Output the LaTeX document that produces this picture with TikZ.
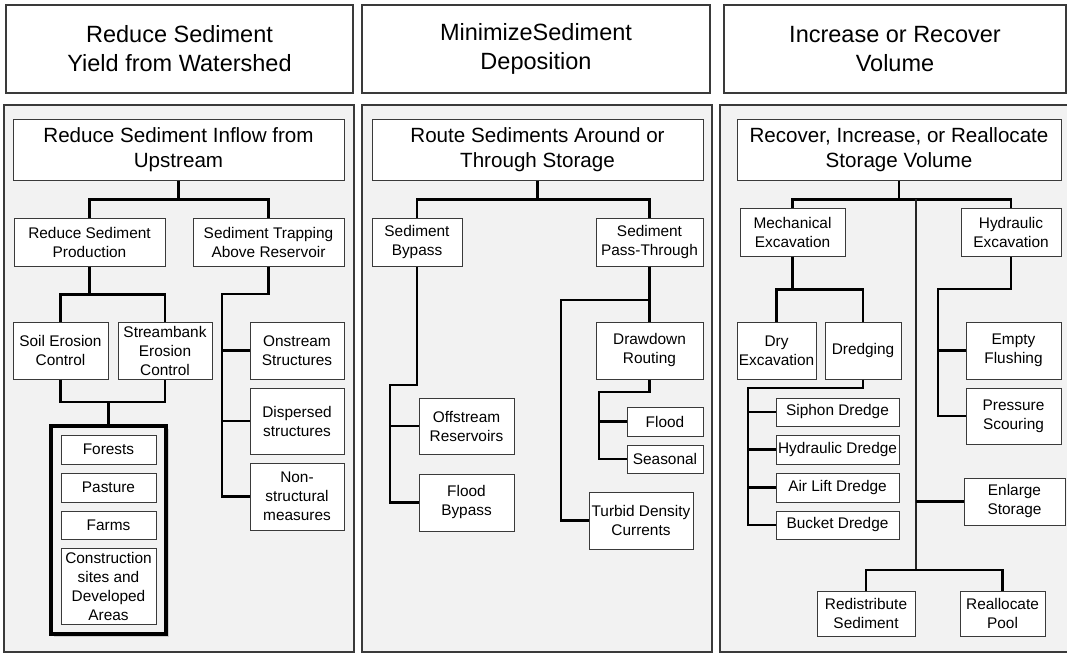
\documentclass[tikz,border=0pt]{standalone}
\usepackage{fontspec}
\setmainfont{Liberation Sans}
\usetikzlibrary{shadows}
\definecolor{panelgray}{HTML}{F2F2F2}
\definecolor{edgec}{HTML}{3A3A3A}
\tikzset{
  box/.style={draw=edgec, line width=1pt, fill=white, inner sep=0pt, align=center,
    font=\fontsize{15.4}{19}\selectfont,
    drop shadow={opacity=0.22, shadow xshift=1.3pt, shadow yshift=-1.3pt}},
  midbox/.style={box, font=\fontsize{20.6}{24.5}\selectfont},
  headbox/.style={draw=edgec, line width=1.2pt, fill=white, inner sep=0pt, align=center,
    font=\fontsize{23.5}{29}\selectfont},
  panel/.style={draw=edgec, line width=1.4pt, fill=panelgray},
  grpbox/.style={draw=black, line width=4.5pt, inner sep=0pt, fill=panelgray,
    drop shadow={opacity=0.3, shadow xshift=3pt, shadow yshift=-3pt}},
  conn/.style={draw=black, line width=2.2pt},
  thinconn/.style={draw=black!85, line width=1.6pt}
}
\newcommand\mybox[7][box]{\node[#1, minimum width={(#5-#3)*1pt}, minimum height={(#6-#4)*1pt}] (#2) at ({(#3+#5)/2},{(#4+#6)/2}) {#7};}
\begin{document}
\begin{tikzpicture}[x=1pt,y=-1pt]
\useasboundingbox[fill=white] (0,0) rectangle (1067,654);
% headers
\mybox[headbox]{h1}{6}{5}{353}{93}{Reduce Sediment\\Yield from Watershed}
\mybox[headbox]{h2}{362}{5}{710}{93}{MinimizeSediment\\Deposition}
\mybox[headbox]{h3}{724}{5}{1066}{93}{Increase or Recover\\Volume}
% panels
\mybox[panel]{p1}{4}{105}{354}{652}{}
\mybox[panel]{p2}{362}{105}{712}{652}{}
\mybox[panel]{p3}{720}{105}{1070}{652}{}

% ---------- panel 1 ----------
\mybox[midbox]{rsi}{13}{119}{344}{180}{Reduce Sediment Inflow from\\Upstream}
\mybox{rsp}{14}{218}{165}{266}{Reduce Sediment\\Production}
\mybox{star}{193}{218}{344}{266}{Sediment Trapping\\Above Reservoir}
\mybox{sec}{13}{322}{108}{379}{Soil Erosion\\Control}
\mybox{stec}{118}{322}{212}{379}{Streambank\\Erosion\\Control}
\mybox{ons}{250}{322}{344}{379}{Onstream\\Structures}
\mybox{disp}{250}{388}{344}{454}{Dispersed\\structures}
\mybox{nons}{250}{463}{344}{530}{Non-\\structural\\measures}
\mybox[grpbox]{grp}{51}{426}{166}{634}{}
\mybox{forests}{61}{435}{156}{464}{Forests}
\mybox{pasture}{61}{473}{156}{502}{Pasture}
\mybox{farms}{61}{511}{156}{539}{Farms}
\mybox{cons}{61}{548}{156}{624}{Construction\\sites and\\Developed\\Areas}

\draw[conn] (rsi.south) -- ++(0,19) coordinate (a1);
\draw[conn] (rsp.north) |- (a1) -| (star.north);
\draw[conn] (rsp.south) -- ++(0,28) coordinate (a2);
\draw[conn] (sec.north) |- (a2) -| (stec.north);
\coordinate (a3) at (222,294);
\draw[conn] (star.south) |- (a3) |- (nons.west);
\draw[conn] (a3 |- ons.west) -- (ons.west);
\draw[conn] (a3 |- disp.west) -- (disp.west);
\coordinate (a4) at (108.5,402);
\draw[conn] (sec.south) |- (a4) -| (stec.south);
\draw[conn] (a4) -- (grp.north);

% ---------- panel 2 ----------
\mybox[midbox]{rst}{372}{119}{703}{180}{Route Sediments Around or\\Through Storage}
\mybox{sb}{372}{218}{462}{266}{Sediment\\Bypass}
\mybox{spt}{596}{218}{703}{266}{Sediment\\Pass-Through}
\mybox{osr}{419}{398}{514}{454}{Offstream\\Reservoirs}
\mybox{fb}{419}{474}{514}{531}{Flood\\Bypass}
\mybox{ddr}{596}{322}{703}{379}{Drawdown\\Routing}
\mybox{flood}{627}{407}{703}{436}{Flood}
\mybox{seas}{627}{445}{703}{473}{Seasonal}
\mybox{tdc}{589}{492}{693}{549}{Turbid Density\\Currents}

\draw[conn] (rst.south) -- ++(0,19) coordinate (b1);
\draw[conn] (sb.north) |- (b1) -| (spt.north);
\coordinate (b2) at (390,385);
\draw[conn] (sb.south) |- (b2) |- (fb.west);
\draw[conn] (b2 |- osr.west) -- (osr.west);
\coordinate (b3) at (561,300);
\draw[conn] (spt.south) |- (b3) |- (tdc.west);
\draw[conn] (spt.south) -- (ddr.north);
\coordinate (b4) at (599,392);
\draw[conn] (ddr.south) |- (b4) |- (seas.west);
\draw[conn] (b4 |- flood.west) -- (flood.west);

% ---------- panel 3 ----------
\mybox[midbox]{rec}{737}{119}{1061}{180}{Recover, Increase, or Reallocate\\Storage Volume}
\mybox{me}{740}{208}{845}{256}{Mechanical\\Excavation}
\mybox{he}{961}{208}{1061}{256}{Hydraulic\\Excavation}
\mybox{dry}{737}{322}{816}{379}{Dry\\Excavation}
\mybox{dredg}{825}{322}{901}{379}{Dredging}
\mybox{siph}{776}{398}{899}{426}{Siphon Dredge}
\mybox{hyd}{776}{435}{899}{464}{Hydraulic Dredge}
\mybox{air}{776}{473}{899}{502}{Air Lift Dredge}
\mybox{buck}{776}{511}{899}{539}{Bucket Dredge}
\mybox{ef}{966}{322}{1061}{379}{Empty\\Flushing}
\mybox{ps}{966}{388}{1061}{444}{Pressure\\Scouring}
\mybox{enl}{964}{478}{1065}{525}{Enlarge\\Storage}
\mybox{rs}{817}{591}{915}{636}{Redistribute\\Sediment}
\mybox{rp}{960}{591}{1045}{636}{Reallocate\\Pool}

\draw[conn] (rec.south) -- ++(0,19) coordinate (c1);
\draw[conn] (me.north) |- (c1) -| (he.north);
\draw[conn] (me.south) -- ++(0,33) coordinate (c2);
\draw[conn] (dry.north) |- (c2) -| (dredg.north);
\coordinate (c3) at (748,388);
\draw[conn] (dredg.south) |- (c3) |- (buck.west);
\draw[conn] (c3 |- siph.west) -- (siph.west);
\draw[conn] (c3 |- hyd.west) -- (hyd.west);
\draw[conn] (c3 |- air.west) -- (air.west);
\coordinate (c4) at (938,289);
\draw[conn] (he.south) |- (c4) |- (ps.west);
\draw[conn] (c4 |- ef.west) -- (ef.west);
\coordinate (c5) at (916,199);
\coordinate (c6) at (916,570);
\draw[thinconn] (c5) -- (c6);
\draw[conn] (c5 |- enl.west) -- (enl.west);
\draw[conn] (rs.north) |- (c6) -| (rp.north);
\end{tikzpicture}
\end{document}
